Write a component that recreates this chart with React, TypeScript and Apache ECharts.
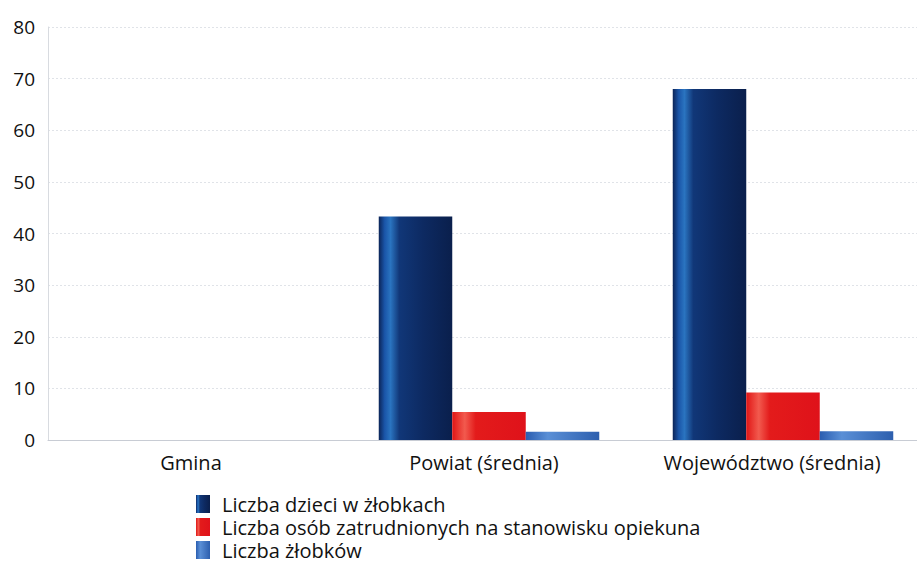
import React, { useEffect, useRef } from "react";
import * as echarts from "echarts";

const categories = ["Gmina", "Powiat (średnia)", "Województwo (średnia)"];
const seriesNames = [
  "Liczba dzieci w żłobkach",
  "Liczba osób zatrudnionych na stanowisku opiekuna",
  "Liczba żłobków",
];
const dzieci = [0, 43.3, 68];
const opiekunowie = [0, 5.4, 9.2];
const zlobki = [0, 1.6, 1.7];
const yTicks = { min: 0, max: 80, interval: 10 };

// horizontal nudge (px, leftwards) of each category label
const labelShift = [4, 5, 11];

const FONT = "'Open Sans', 'Noto Sans', sans-serif";

const grad = (stops: [number, string][]) =>
  new echarts.graphic.LinearGradient(
    0, 0, 1, 0,
    stops.map(([offset, color]) => ({ offset, color }))
  );

export default function App() {
  const ref = useRef<HTMLDivElement>(null);
  useEffect(() => {
    if (!ref.current) return;
    const chart = echarts.init(ref.current, undefined, { renderer: "svg" });
    const darkGrad = grad([
      [0, "#0b2457"],
      [0.08, "#1a55a8"],
      [0.16, "#2a74c0"],
      [0.28, "#113778"],
      [0.6, "#0d2a62"],
      [1, "#0a1f4c"],
    ]);
    const redGrad = grad([
      [0, "#e01515"],
      [0.17, "#f25a4e"],
      [0.32, "#e31b1b"],
      [1, "#df121a"],
    ]);
    const lightGrad = grad([
      [0, "#2a5db0"],
      [0.3, "#5a8fd6"],
      [1, "#2d5fae"],
    ]);
    chart.setOption({
      animation: false,
      backgroundColor: "#ffffff",
      textStyle: { fontFamily: FONT },
      grid: {
        left: 48,
        width: 882,
        top: 27,
        bottom: 123,
        containLabel: false,
        outerBoundsMode: "none",
      },
      legend: seriesNames.map((name, i) => ({
        orient: "horizontal",
        left: 196,
        top: 494 + i * 23,
        padding: 0,
        itemWidth: 14,
        itemHeight: 18,
        icon: "rect",
        textStyle: {
          fontSize: 20,
          lineHeight: 20,
          color: "#111",
          fontFamily: FONT,
          padding: [0, 0, 0, 7],
        },
        data: [name],
      })),
      xAxis: {
        type: "category",
        data: categories.map((c, i) => ({
          value: c,
          textStyle: { padding: [0, labelShift[i] * 2, 0, 0] },
        })),
        axisLine: { lineStyle: { color: "#c8ccd4" } },
        axisTick: { show: false },
        axisLabel: { fontSize: 20, color: "#111", margin: 12, fontFamily: FONT },
      },
      yAxis: {
        type: "value",
        min: yTicks.min,
        max: yTicks.max,
        interval: yTicks.interval,
        axisLine: { show: true, lineStyle: { color: "#d8dbe0" } },
        axisTick: { show: false },
        axisLabel: { fontSize: 19, color: "#111", margin: 13, fontFamily: FONT },
        splitLine: { lineStyle: { color: "#e0e3e8", type: [2, 2] } },
      },
      series: [
        { name: seriesNames[0], type: "bar", data: dzieci, barGap: "0%", barCategoryGap: "25%", itemStyle: { color: darkGrad } },
        { name: seriesNames[1], type: "bar", data: opiekunowie, barGap: "0%", barCategoryGap: "25%", itemStyle: { color: redGrad } },
        { name: seriesNames[2], type: "bar", data: zlobki, barGap: "0%", barCategoryGap: "25%", itemStyle: { color: lightGrad } },
      ],
    });
    return () => chart.dispose();
  }, []);
  return <div ref={ref} style={{ width: 917, height: 563, position: "absolute", left: 0, top: 0 }} />;
}
